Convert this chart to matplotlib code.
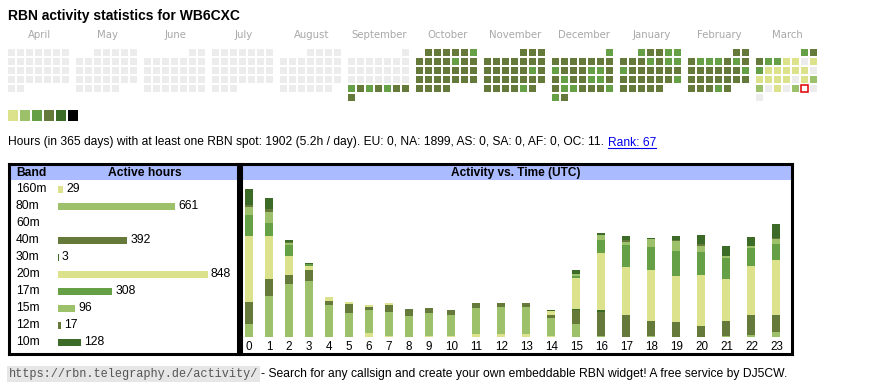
import datetime as dt
import matplotlib
matplotlib.use('Agg')
import matplotlib.pyplot as plt
from matplotlib.lines import Line2D
from matplotlib.patches import Rectangle

# ---- data ----
callsign = 'WB6CXC'
months = ['April', 'May', 'June', 'July', 'August', 'September', 'October',
          'November', 'December', 'January', 'February', 'March']
month_starts = [dt.date(2024, 4, 1), dt.date(2024, 5, 1), dt.date(2024, 6, 1), dt.date(2024, 7, 1),
                dt.date(2024, 8, 1), dt.date(2024, 9, 1), dt.date(2024, 10, 1), dt.date(2024, 11, 1),
                dt.date(2024, 12, 1), dt.date(2025, 1, 1), dt.date(2025, 2, 1), dt.date(2025, 3, 1)]
# activity level per day (0 = none ... 6 = max), one string per month
day_levels = [
    '0' * 30,
    '0' * 31,
    '0' * 30,
    '0' * 31,
    '0' * 31,
    '0' * 22 + '34343444',
    '444443' + '4444' + '3' + '4' * 20,
    '4' * 15 + '3' + '4' * 12 + '3' + '4',
    '3' + '4444444' + '3444334' + '4344334' + '4334443' + '34',
    '34433' + '4443433' + '3444444' + '4444443' + '44444',
    '44' + '4333434' + '4444443' + '4444444' + '44434',
    '34' + '4331101' + '3111110' + '1111012' + '2010200' + '0',
]
today = dt.date(2025, 3, 29)

bands = ['160m', '80m', '60m', '40m', '30m', '20m', '17m', '15m', '12m', '10m']
band_totals = [29, 661, 0, 392, 3, 848, 308, 96, 17, 128]
hours = list(range(24))
hourly = {
    '160m': [0, 0, 0, 0, 0, 0, 6, 2, 0, 2, 2, 5, 5, 5, 2, 0, 0, 0, 0, 0, 0, 0, 0, 0],
    '80m':  [19, 60, 78, 82, 47, 36, 34, 35, 31, 34, 31, 38, 39, 39, 26, 19, 1, 0, 1, 0, 0, 1, 3, 7],
    '60m':  [0] * 24,
    '40m':  [32, 25, 13, 16, 6, 12, 4, 10, 10, 6, 6, 7, 6, 6, 4, 21, 36, 33, 23, 22, 16, 23, 29, 26],
    '30m':  [0] * 15 + [1, 2] + [0] * 7,
    '20m':  [98, 64, 28, 7, 6, 3, 3, 3, 0, 0, 0, 0, 0, 0, 6, 45, 85, 70, 74, 67, 75, 61, 73, 80],
    '17m':  [31, 18, 16, 2, 0, 0, 0, 0, 0, 0, 0, 0, 0, 0, 0, 4, 19, 32, 34, 37, 34, 31, 26, 24],
    '15m':  [11, 17, 3, 1, 0, 0, 0, 0, 0, 0, 0, 0, 0, 0, 0, 3, 7, 5, 12, 15, 9, 3, 3, 7],
    '12m':  [3, 4, 2, 0, 0, 0, 0, 0, 0, 0, 0, 0, 0, 0, 0, 0, 0, 2, 0, 2, 2, 0, 0, 2],
    '10m':  [23, 16, 3, 1, 0, 0, 0, 0, 0, 0, 0, 0, 0, 0, 1, 6, 3, 6, 1, 6, 14, 15, 13, 20],
}
stats_text = ('Hours (in 365 days) with at least one RBN spot: 1902 (5.2h / day). '
              'EU: 0, NA: 1899, AS: 0, SA: 0, AF: 0, OC: 11.')
rank_text = 'Rank: 67'
footer_url = 'https://rbn.telegraphy.de/activity/'
footer_text = '- Search for any callsign and create your own embeddable RBN widget! A free service by DJ5CW.'

# ---- styles ----
level_colors = ['#ececec', '#dbe28b', '#9dc06b', '#66a046', '#657a3a', '#3b6b26', '#000000']
band_colors = ['#dbe28b', '#9dc06b', '#66a046', '#657a3a', '#3b6b26',
               '#dbe28b', '#66a046', '#9dc06b', '#657a3a', '#3b6b26']
header_blue = '#aabbff'
SANS = 'Liberation Sans'
TFS = 8.7  # table font size

W, H = 870, 390
fig = plt.figure(figsize=(W / 100, H / 100), dpi=100)
fig.patch.set_facecolor('white')


def px_axes(left, top, width, height):
    return fig.add_axes([left / W, 1 - (top + height) / H, width / W, height / H])


def px_text(x, y, s, **kw):
    return fig.text(x / W, 1 - y / H, s, **kw)


def bare(ax):
    ax.set_xticks([])
    ax.set_yticks([])
    for s in ax.spines.values():
        s.set_visible(False)
    ax.patch.set_alpha(0)


px_text(8, 20, f'RBN activity statistics for {callsign}', fontsize=10, fontweight='bold',
        family=SANS, va='baseline')

# ---- calendar ----
PITCH = 9.0        # px per cell
MONTH_W = 68.0     # px per month block
cal = px_axes(8, 49, 811, 54)
bare(cal)
cal.set_xlim(0, 811 / PITCH)
cal.set_ylim(54 / PITCH, 0)
for m, (start, levels) in enumerate(zip(month_starts, day_levels)):
    x0 = m * MONTH_W / PITCH
    first = start.weekday()
    xs, ys, cs = [], [], []
    for d, lv in enumerate(levels):
        pos = first + d
        xs.append(x0 + pos % 7)
        ys.append(pos // 7)
        cs.append(level_colors[int(lv)])
        date = start + dt.timedelta(days=d)
        if date == today:
            cal.add_patch(Rectangle((x0 + pos % 7, pos // 7), 7 / PITCH, 7 / PITCH,
                                    facecolor='white', edgecolor='#e00000', lw=1.1, zorder=3))
    cal.bar(xs, [7 / PITCH] * len(xs), bottom=ys, width=7 / PITCH, align='edge',
            color=cs, linewidth=0)
    px_text(8 + m * MONTH_W + 31.5, 35.5, months[m], fontsize=7.3, color='#a8a8a8',
            family='DejaVu Sans', ha='center', va='center')

# legend squares
leg = px_axes(8, 110, 72, 11)
bare(leg)
leg.set_xlim(0, 6)
leg.set_ylim(0, 1)
leg.bar(range(6), [1] * 6, width=10 / 12, align='edge', color=level_colors[1:], linewidth=0)

# stats line
st = px_text(8, 145.5, stats_text, fontsize=8.65, family=SANS, va='baseline')
fig.canvas.draw()
r = fig.canvas.get_renderer()
bb = st.get_window_extent(r)
rk = fig.text((bb.x1 + 4) / W, 1 - 145.5 / H, rank_text, fontsize=8.65, family=SANS,
              va='baseline', color='#0000ee')
rb = rk.get_window_extent(r)
fig.add_artist(Line2D([rb.x0 / W, rb.x1 / W], [1 - 147.5 / H] * 2, color='#0000ee', lw=0.8))

# ---- left panel: band table ----
lp = px_axes(9, 164, 229, 190)
lp.set_xticks([])
lp.set_yticks([])
for s in lp.spines.values():
    s.set_linewidth(2.2)
lp.add_patch(Rectangle((0, 1 - 16 / 190), 1, 16 / 190, transform=lp.transAxes,
                       facecolor=header_blue, edgecolor='none'))
px_text(16, 173, 'Band', fontsize=TFS, fontweight='bold', family=SANS, va='center')
px_text(145, 173, 'Active hours', fontsize=TFS, fontweight='bold', family=SANS,
        va='center', ha='center')

bt = px_axes(58, 180.5, 150, 170)
bare(bt)
bt.set_xlim(0, max(band_totals))
bt.set_ylim(len(bands) - 0.5, -0.5)
bt.barh(range(len(bands)), band_totals, height=7 / 17, color=band_colors, linewidth=0)
for i, (b, v) in enumerate(zip(bands, band_totals)):
    bt.annotate(b, xy=(16, i), xycoords=('figure pixels', 'data'), va='center',
                fontsize=TFS, family=SANS)
    if v:
        bt.annotate(str(v), xy=(v, i), xytext=(3, 0), textcoords='offset pixels',
                    va='center', fontsize=TFS, family=SANS, annotation_clip=False)

# ---- right panel: activity vs time ----
rp = px_axes(241, 164, 551, 190)
rp.set_xticks([])
rp.set_yticks([])
for s in rp.spines.values():
    s.set_linewidth(2.2)
rp.add_patch(Rectangle((0, 1 - 16 / 190), 1, 16 / 190, transform=rp.transAxes,
                       facecolor=header_blue, edgecolor='none'))
px_text(516, 173, 'Activity vs. Time (UTC)', fontsize=8.6, fontweight='bold', family=SANS,
        va='center', ha='center')

# table-like columns: wider cells for two-digit hours
col_w = [15 + 5 * len(str(h)) for h in hours]
centers = []
acc = 0
for w in col_w:
    centers.append(acc + w / 2 - 1)
    acc += w

ac = px_axes(240, 183, acc, 154)
ac.patch.set_alpha(0)
for s in ac.spines.values():
    s.set_visible(False)
ac.set_xlim(0, acc)
ac.set_ylim(0, 154 * 1.47)
bottom = [0] * 24
for b, c in zip(bands, band_colors):
    vals = hourly[b]
    ac.bar(centers, vals, bottom=bottom, width=8, color=c, linewidth=0)
    bottom = [x + y for x, y in zip(bottom, vals)]
ac.set_yticks([])
ac.set_xticks(centers, [str(h) for h in hours])
ac.tick_params(axis='x', length=0, pad=3, labelsize=8.4)
for lab in ac.get_xticklabels():
    lab.set_family(SANS)

# ---- footer ----
ft = px_text(9, 374, footer_url, fontsize=8.55, family='Liberation Mono', color='#555555',
             va='center', bbox=dict(facecolor='#e6e6e6', edgecolor='none', pad=1.2))
fig.canvas.draw()
fb = ft.get_window_extent(fig.canvas.get_renderer())
fig.text((fb.x1 + 3) / W, 1 - 374 / H, footer_text, fontsize=8.75, family=SANS, va='center')

fig.savefig('out.png', dpi=100)
